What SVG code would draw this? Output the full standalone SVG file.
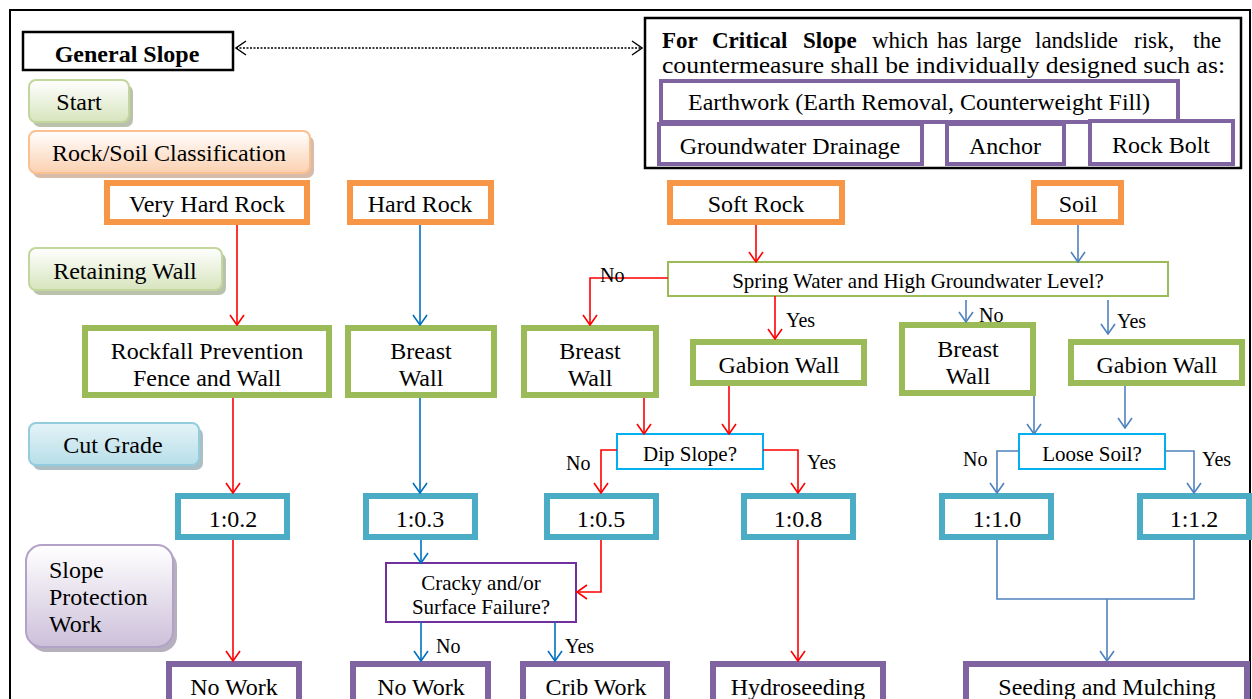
<svg xmlns="http://www.w3.org/2000/svg" width="1252" height="699" viewBox="0 0 1252 699">
  <style>
    text { font-family: "Liberation Serif", "Times New Roman", serif; fill: #000; }
    .t { font-size: 24px; text-anchor: middle; }
    .q { font-size: 21px; text-anchor: middle; }
    .lb { font-size: 20px; }
    .orange { fill: #fff; stroke: #F79646; stroke-width: 6; }
    .green { fill: #fff; stroke: #9BBB59; stroke-width: 6; }
    .cyan { fill: #fff; stroke: #4BACC6; stroke-width: 6; }
    .purple { fill: #fff; stroke: #8064A2; stroke-width: 6; }
    .purple4 { fill: #fff; stroke: #8064A2; stroke-width: 4; }
    .shadow { opacity: 0.75; }
    .red { fill: none; stroke: #FF0000; stroke-width: 1.6; marker-end: url(#ah-red); }
    .blue { fill: none; stroke: #0070C0; stroke-width: 1.6; marker-end: url(#ah-blue); }
    .steel { fill: none; stroke: #4F81BD; stroke-width: 1.6; marker-end: url(#ah-steel); }
    .steel0 { fill: none; stroke: #4F81BD; stroke-width: 1.6; }
  </style>
  <defs>
    <marker id="ah-red" viewBox="0 0 12 16" refX="11" refY="8" markerWidth="12" markerHeight="16" markerUnits="userSpaceOnUse" orient="auto">
      <path d="M1,1 L11,8 L1,15" fill="none" stroke="#FF0000" stroke-width="1.6"/>
    </marker>
    <marker id="ah-blue" viewBox="0 0 12 16" refX="11" refY="8" markerWidth="12" markerHeight="16" markerUnits="userSpaceOnUse" orient="auto">
      <path d="M1,1 L11,8 L1,15" fill="none" stroke="#0070C0" stroke-width="1.6"/>
    </marker>
    <marker id="ah-steel" viewBox="0 0 12 16" refX="11" refY="8" markerWidth="12" markerHeight="16" markerUnits="userSpaceOnUse" orient="auto">
      <path d="M1,1 L11,8 L1,15" fill="none" stroke="#4F81BD" stroke-width="1.6"/>
    </marker>
    <marker id="ah-black" viewBox="0 0 12 16" refX="11" refY="8" markerWidth="12" markerHeight="16" markerUnits="userSpaceOnUse" orient="auto-start-reverse">
      <path d="M1,1 L11,8 L1,15" fill="none" stroke="#000" stroke-width="1.4"/>
    </marker>
    <linearGradient id="g-green" x1="0" y1="0" x2="0" y2="1">
      <stop offset="0" stop-color="#ffffff"/>
      <stop offset="1" stop-color="#D7E4BD"/>
    </linearGradient>
    <linearGradient id="g-orange" x1="0" y1="0" x2="0" y2="1">
      <stop offset="0" stop-color="#ffffff"/>
      <stop offset="1" stop-color="#FBD0B0"/>
    </linearGradient>
    <linearGradient id="g-cyan" x1="0" y1="0" x2="0" y2="1">
      <stop offset="0" stop-color="#E4F3F7"/>
      <stop offset="1" stop-color="#B7DEE8"/>
    </linearGradient>
    <linearGradient id="g-purple" x1="0" y1="0" x2="0" y2="1">
      <stop offset="0" stop-color="#ffffff"/>
      <stop offset="1" stop-color="#CCC0DA"/>
    </linearGradient>
  </defs>

  <!-- page frame -->
  <rect x="10" y="10" width="1240" height="720" fill="#fff" stroke="#000" stroke-width="2"/>

  <!-- header: general slope vs critical slope -->
  <g id="general-slope">
    <rect x="23" y="32" width="210" height="38" fill="#fff" stroke="#000" stroke-width="2.5"/>
    <text x="127" y="62" style="font-size:24px;font-weight:bold;text-anchor:middle">General Slope</text>
  </g>
  <g id="critical-slope">
    <rect x="645" y="18" width="596" height="150" fill="#fff" stroke="#000" stroke-width="2.5"/>
    <text y="48" style="font-size:23px"><tspan x="662" font-weight="bold">For</tspan><tspan x="712" font-weight="bold">Critical</tspan><tspan x="803" font-weight="bold">Slope</tspan><tspan x="872">which</tspan><tspan x="937">has</tspan><tspan x="976">large</tspan><tspan x="1035">landslide</tspan><tspan x="1134">risk,</tspan><tspan x="1193">the</tspan></text>
    <text x="662" y="73" style="font-size:23px" textLength="563" lengthAdjust="spacingAndGlyphs">countermeasure shall be individually designed such as:</text>
  </g>
  <g id="earthwork">
    <rect x="661" y="81" width="517" height="41" class="purple4"/>
    <text x="919" y="110" class="t">Earthwork (Earth Removal, Counterweight Fill)</text>
  </g>
  <g id="groundwater-drainage">
    <rect x="659" y="124" width="263" height="40" class="purple4"/>
    <text x="790" y="154" class="t">Groundwater Drainage</text>
  </g>
  <g id="anchor">
    <rect x="947" y="124" width="117" height="40" class="purple4"/>
    <text x="1005" y="154" class="t">Anchor</text>
  </g>
  <g id="rock-bolt">
    <rect x="1090" y="121" width="143" height="43" class="purple4"/>
    <text x="1161" y="153" class="t">Rock Bolt</text>
  </g>

  <!-- stage labels -->
  <g id="stage-start">
    <rect x="33" y="85" width="100" height="42" rx="7" class="shadow" fill="#a3ad91"/>
    <rect x="29" y="80" width="100" height="42" rx="7" fill="url(#g-green)" stroke="#C3D69B" stroke-width="2"/>
    <text x="79" y="110" class="t">Start</text>
  </g>
  <g id="stage-classification">
    <rect x="33" y="136" width="281" height="42" rx="7" class="shadow" fill="#c9a58c"/>
    <rect x="29" y="131" width="281" height="42" rx="7" fill="url(#g-orange)" stroke="#FAC090" stroke-width="2"/>
    <text x="169" y="161" class="t">Rock/Soil Classification</text>
  </g>
  <g id="stage-retaining-wall">
    <rect x="33" y="253" width="193" height="42" rx="7" class="shadow" fill="#a3ad91"/>
    <rect x="29" y="248" width="193" height="42" rx="7" fill="url(#g-green)" stroke="#C3D69B" stroke-width="2"/>
    <text x="125" y="279" class="t">Retaining Wall</text>
  </g>
  <g id="stage-cut-grade">
    <rect x="33" y="428" width="170" height="42" rx="7" class="shadow" fill="#8fa9b0"/>
    <rect x="29" y="423" width="170" height="42" rx="7" fill="url(#g-cyan)" stroke="#93CDDD" stroke-width="2"/>
    <text x="113" y="453" class="t">Cut Grade</text>
  </g>
  <g id="stage-slope-protection">
    <rect x="30" y="550" width="147" height="102" rx="16" class="shadow" fill="#9d94a8"/>
    <rect x="26" y="545" width="147" height="102" rx="16" fill="url(#g-purple)" stroke="#B3A2C7" stroke-width="2"/>
    <text x="49" y="578" style="font-size:24px">Slope</text>
    <text x="49" y="605" style="font-size:24px">Protection</text>
    <text x="49" y="632" style="font-size:24px">Work</text>
  </g>

  <!-- rock / soil classes -->
  <g id="very-hard-rock">
    <rect x="107" y="183" width="200" height="39" class="orange"/>
    <text x="207" y="212" class="t">Very Hard Rock</text>
  </g>
  <g id="hard-rock">
    <rect x="350" y="183" width="141" height="39" class="orange"/>
    <text x="420" y="212" class="t">Hard Rock</text>
  </g>
  <g id="soft-rock">
    <rect x="670" y="183" width="172" height="39" class="orange"/>
    <text x="756" y="212" class="t">Soft Rock</text>
  </g>
  <g id="soil">
    <rect x="1034" y="183" width="87" height="39" class="orange"/>
    <text x="1078" y="212" class="t">Soil</text>
  </g>

  <!-- retaining walls -->
  <g id="spring-water">
    <rect x="668" y="262" width="500" height="34" fill="#fff" stroke="#9BBB59" stroke-width="2"/>
    <text x="918" y="288" class="q">Spring Water and High Groundwater Level?</text>
  </g>
  <g id="rockfall-fence">
    <rect x="85" y="328" width="244" height="67" class="green"/>
    <text x="207" y="359" class="t">Rockfall Prevention</text>
    <text x="207" y="386" class="t">Fence and Wall</text>
  </g>
  <g id="breast-wall-hard">
    <rect x="348" y="328" width="146" height="67" class="green"/>
    <text x="421" y="359" class="t">Breast</text>
    <text x="421" y="386" class="t">Wall</text>
  </g>
  <g id="breast-wall-soft">
    <rect x="524" y="328" width="132" height="67" class="green"/>
    <text x="590" y="359" class="t">Breast</text>
    <text x="590" y="386" class="t">Wall</text>
  </g>
  <g id="gabion-wall-soft">
    <rect x="693" y="342" width="171" height="41" class="green"/>
    <text x="779" y="373" class="t">Gabion Wall</text>
  </g>
  <g id="breast-wall-soil">
    <rect x="902" y="325" width="131" height="68" class="green"/>
    <text x="968" y="357" class="t">Breast</text>
    <text x="968" y="384" class="t">Wall</text>
  </g>
  <g id="gabion-wall-soil">
    <rect x="1071" y="342" width="171" height="41" class="green"/>
    <text x="1157" y="373" class="t">Gabion Wall</text>
  </g>

  <!-- decisions -->
  <g id="dip-slope">
    <rect x="617" y="434" width="146" height="35" fill="#fff" stroke="#00B0F0" stroke-width="2"/>
    <text x="690" y="461" class="q">Dip Slope?</text>
  </g>
  <g id="loose-soil">
    <rect x="1019" y="434" width="146" height="35" fill="#fff" stroke="#00B0F0" stroke-width="2"/>
    <text x="1092" y="461" class="q">Loose Soil?</text>
  </g>

  <!-- cut grades -->
  <g id="grade-0-2">
    <rect x="178" y="496" width="109" height="41" class="cyan"/>
    <text x="233" y="527" class="t">1:0.2</text>
  </g>
  <g id="grade-0-3">
    <rect x="366" y="496" width="109" height="41" class="cyan"/>
    <text x="420" y="527" class="t">1:0.3</text>
  </g>
  <g id="grade-0-5">
    <rect x="547" y="496" width="109" height="41" class="cyan"/>
    <text x="601" y="527" class="t">1:0.5</text>
  </g>
  <g id="grade-0-8">
    <rect x="744" y="496" width="109" height="41" class="cyan"/>
    <text x="798" y="527" class="t">1:0.8</text>
  </g>
  <g id="grade-1-0">
    <rect x="942" y="496" width="109" height="41" class="cyan"/>
    <text x="997" y="527" class="t">1:1.0</text>
  </g>
  <g id="grade-1-2">
    <rect x="1140" y="496" width="109" height="41" class="cyan"/>
    <text x="1194" y="527" class="t">1:1.2</text>
  </g>

  <g id="cracky">
    <rect x="386" y="563" width="190" height="59" fill="#fff" stroke="#7030A0" stroke-width="2"/>
    <text x="481" y="590" class="q">Cracky and/or</text>
    <text x="481" y="614" class="q">Surface Failure?</text>
  </g>

  <!-- slope protection works -->
  <g id="no-work-1">
    <rect x="169" y="664" width="130" height="60" class="purple"/>
    <text x="234" y="695" class="t">No Work</text>
  </g>
  <g id="no-work-2">
    <rect x="353" y="664" width="135" height="60" class="purple"/>
    <text x="421" y="695" class="t">No Work</text>
  </g>
  <g id="crib-work">
    <rect x="523" y="664" width="144" height="60" class="purple"/>
    <text x="596" y="695" class="t">Crib Work</text>
  </g>
  <g id="hydroseeding">
    <rect x="713" y="664" width="170" height="60" class="purple"/>
    <text x="798" y="695" class="t">Hydroseeding</text>
  </g>
  <g id="seeding-mulching">
    <rect x="966" y="664" width="281" height="60" class="purple"/>
    <text x="1107" y="695" class="t">Seeding and Mulching</text>
  </g>

  <!-- connectors -->
  <g id="connectors">
    <line x1="236" y1="48" x2="642" y2="48" stroke="#000" stroke-width="1.4" stroke-dasharray="2,1.5" marker-start="url(#ah-black)" marker-end="url(#ah-black)"/>

    <!-- very hard rock -->
    <path class="red" d="M237,225 V325"/>
    <path class="red" d="M233,398 V493"/>
    <path class="red" d="M233,540 V661"/>

    <!-- hard rock -->
    <path class="blue" d="M420,225 V325"/>
    <path class="blue" d="M420,398 V493"/>
    <path class="blue" d="M421,540 V563"/>
    <path class="blue" d="M421,622 V661"/>
    <path class="blue" d="M555,622 V661"/>

    <!-- soft rock -->
    <path class="red" d="M756,225 V262"/>
    <path class="red" d="M668,278 H590 V325"/>
    <path class="red" d="M775,296 V339"/>
    <path class="red" d="M644,398 V434"/>
    <path class="red" d="M729,386 V434"/>
    <path class="red" d="M617,450 H601 V493"/>
    <path class="red" d="M763,450 H798 V493"/>
    <path class="red" d="M601,540 V592 H577"/>
    <path class="red" d="M798,540 V661"/>

    <!-- soil -->
    <path class="steel" d="M1078,225 V262"/>
    <path class="steel" d="M966,300 V322"/>
    <path class="steel" d="M1108,300 V334"/>
    <path class="steel" d="M1034,396 V434"/>
    <path class="steel" d="M1125,386 V428"/>
    <path class="steel" d="M1019,451 H997 V493"/>
    <path class="steel" d="M1165,451 H1194 V493"/>
    <path class="steel0" d="M997,540 V599 H1194 V540"/>
    <path class="steel" d="M1107,599 V661"/>

    <!-- branch labels -->
    <text x="600" y="282" class="lb">No</text>
    <text x="786" y="327" class="lb">Yes</text>
    <text x="566" y="470" class="lb">No</text>
    <text x="807" y="469" class="lb">Yes</text>
    <text x="436" y="653" class="lb">No</text>
    <text x="565" y="653" class="lb">Yes</text>
    <text x="979" y="322" class="lb">No</text>
    <text x="1117" y="328" class="lb">Yes</text>
    <text x="963" y="466" class="lb">No</text>
    <text x="1202" y="466" class="lb">Yes</text>
  </g>
</svg>
